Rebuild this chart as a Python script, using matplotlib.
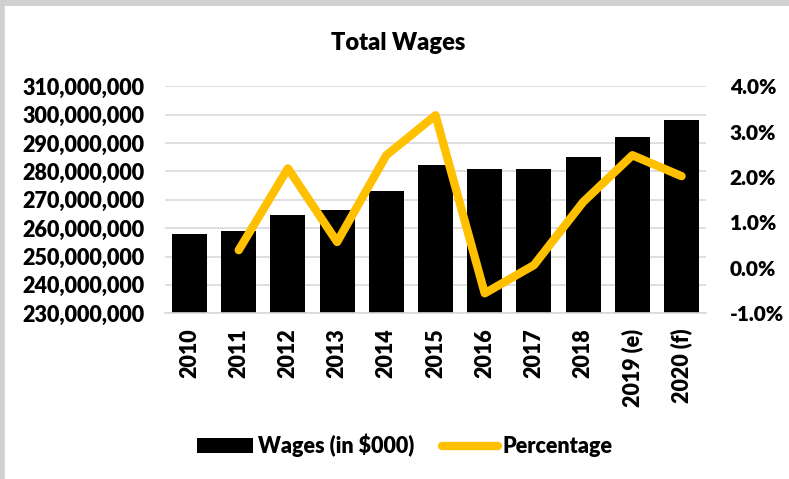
import matplotlib.pyplot as plt
import matplotlib.ticker as mticker
import numpy as np

years = ['2010', '2011', '2012', '2013', '2014', '2015', '2016', '2017', '2018', '2019 (e)', '2020 (f)']
wages = [257900000, 259100000, 264600000, 266400000, 273200000, 282100000,
         280700000, 281000000, 285100000, 292200000, 298100000]
# percentage change, no value for the first year
pct = [np.nan, 0.39, 2.19, 0.57, 2.48, 3.36, -0.56, 0.06, 1.45, 2.48, 2.02]

plt.rcParams['font.family'] = ['Lato', 'DejaVu Sans']
plt.rcParams['font.weight'] = 'heavy'

fig = plt.figure(figsize=(7.89, 4.79), dpi=100)
fig.patch.set_facecolor('white')
# grey window edge on top and left like the screenshot
fig.add_artist(plt.Line2D([0, 1], [0.995, 0.995], transform=fig.transFigure, color='#d0d0d0', lw=5))
fig.add_artist(plt.Line2D([0.003, 0.003], [0, 1], transform=fig.transFigure, color='#d0d0d0', lw=4))

ax = fig.add_axes([0.209, 0.346, 0.686, 0.474])
x = np.arange(len(years))

ax.bar(x, wages, width=0.71, color='black', zorder=2, label='Wages (in $000)')
ax.set_ylim(230000000, 310000000)
ax.set_xlim(-0.5, len(years) - 0.5)
ax.yaxis.set_major_locator(mticker.MultipleLocator(10000000))
ax.yaxis.set_major_formatter(mticker.FuncFormatter(lambda v, p: '{:,.0f}'.format(v)))
ax.grid(axis='y', color='#d9d9d9', lw=1.2, zorder=0)
ax.set_axisbelow(True)
for s in ['top', 'left', 'right']:
    ax.spines[s].set_visible(False)
ax.spines['bottom'].set_color('#d9d9d9')
ax.spines['bottom'].set_linewidth(1.2)
ax.tick_params(axis='y', length=0, labelsize=15.5, pad=15)
ax.set_xticks(x)
ax.set_xticklabels(years, rotation=90, fontsize=15.5)
ax.tick_params(axis='x', length=0, pad=11)

ax2 = ax.twinx()
ax2.plot(x, pct, color='#FFC000', lw=6, solid_joinstyle='round', solid_capstyle='round',
         zorder=3, label='Percentage')
ax2.set_ylim(-1, 4)
ax2.yaxis.set_major_locator(mticker.MultipleLocator(1))
ax2.yaxis.set_major_formatter(mticker.FuncFormatter(lambda v, p: '%.1f%%' % v))
for s in ['top', 'left', 'right', 'bottom']:
    ax2.spines[s].set_visible(False)
ax2.tick_params(axis='y', length=0, labelsize=15, pad=17)

fig.text(0.505, 0.91, 'Total Wages', ha='center', va='center', fontsize=17, fontweight='heavy')

h1, l1 = ax.get_legend_handles_labels()
h2, l2 = ax2.get_legend_handles_labels()
fig.legend(h1 + h2, l1 + l2, loc='center', bbox_to_anchor=(0.513, 0.07), ncol=2,
           frameon=False, fontsize=15.5, handlelength=2.6, handletextpad=0.2, columnspacing=1.3)

fig.savefig('out.png', dpi=100)
